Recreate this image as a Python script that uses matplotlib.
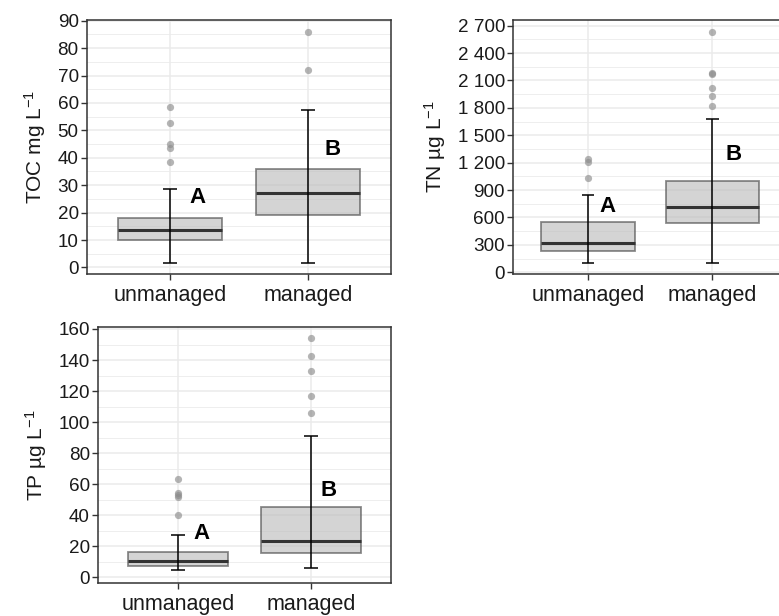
import matplotlib
matplotlib.use("Agg")
import matplotlib.pyplot as plt
from matplotlib.ticker import MultipleLocator, FuncFormatter

plt.rcParams.update({
    "font.family": ["Liberation Sans", "DejaVu Sans"],
    "mathtext.fontset": "custom",
    "mathtext.rm": "Liberation Sans",
    "mathtext.it": "Liberation Sans",
    "mathtext.default": "regular",
})

# =========================
# DATA
# =========================
groups = ["unmanaged", "managed"]

# TOC (mg/L): whislo, q1, median, q3, whishi
toc_unmanaged = [1.5, 9.9, 13.7, 18.0, 28.5]
toc_managed = [1.5, 19.1, 27.2, 36.0, 57.5]
toc_out_unmanaged = [58.5, 52.8, 45.0, 43.6, 38.3]
toc_out_managed = [86.0, 72.0]

# TN (ug/L)
tn_unmanaged = [100, 237, 324, 551, 846]
tn_managed = [100, 536, 712, 1000, 1675]
tn_out_unmanaged = [1237, 1210, 1029]
tn_out_managed = [2635, 2186, 2171, 2015, 1934, 1821]

# TP (ug/L)
tp_unmanaged = [4.7, 7.3, 10.7, 16.5, 27.5]
tp_managed = [5.8, 15.5, 23.6, 45.5, 91.2]
tp_out_unmanaged = [63.0, 54.3, 53.0, 52.0, 40.3]
tp_out_managed = [154.0, 142.8, 132.7, 116.8, 106.0]

# significance letters: (x, y)
toc_letters = [("A", 1.2, 25.5), ("B", 2.18, 43.0)]
tn_letters = [("A", 1.16, 720), ("B", 2.17, 1290)]
tp_letters = [("A", 1.18, 28.0), ("B", 2.13, 56.0)]

# =========================
# HELPERS
# =========================
def make_stats(five, fliers):
    lo, q1, med, q3, hi = five
    return {"whislo": lo, "q1": q1, "med": med, "q3": q3, "whishi": hi,
            "fliers": fliers}


def thousands(v, pos):
    return "{:,.0f}".format(v).replace(",", " ")


def draw_panel(ax, stats, letters, ylabel, ylim, major, fmt=None):
    pos = [1, 2]
    ax.set_xlim(0.4, 2.6)
    ax.set_ylim(*ylim)

    # whisker lines with caps (drawn through the box)
    for p, s in zip(pos, stats):
        ax.vlines(p, s["whislo"], s["whishi"], color="black", lw=1.1, zorder=3)
        ax.hlines([s["whislo"], s["whishi"]], p - 0.05, p + 0.05,
                  color="black", lw=1.1, zorder=3)

    ax.bxp(stats, positions=pos, widths=0.75, patch_artist=True,
           showcaps=False, manage_ticks=False,
           boxprops=dict(facecolor="#bdbdbd", edgecolor="#4d4d4d",
                         lw=1.3, alpha=0.65),
           whiskerprops=dict(lw=0),
           medianprops=dict(color="#333333", lw=2.2),
           flierprops=dict(marker="o", markersize=5.2, markerfacecolor="#8c8c8c",
                           markeredgecolor="none", alpha=0.65),
           zorder=2)

    for txt, x, y in letters:
        ax.text(x, y, txt, fontsize=16, fontweight="bold", ha="center",
                va="center", color="black", zorder=5)

    ax.set_xticks(pos)
    ax.set_xticklabels(groups, fontsize=15.5, color="#1a1a1a")
    ax.yaxis.set_major_locator(MultipleLocator(major))
    ax.yaxis.set_minor_locator(MultipleLocator(major / 2))
    if fmt is not None:
        ax.yaxis.set_major_formatter(FuncFormatter(fmt))
    ax.tick_params(axis="y", labelsize=13.6, labelcolor="#1a1a1a")
    ax.tick_params(axis="both", which="major", length=4, width=1,
                   color="#333333", pad=2)
    ax.tick_params(axis="y", which="minor", length=0)
    ax.tick_params(axis="x", pad=4)

    ax.grid(True, which="major", color="#ebebeb", lw=1.1, zorder=0)
    ax.grid(True, which="minor", axis="y", color="#ebebeb", lw=0.6, zorder=0)
    ax.set_axisbelow(True)
    for sp in ax.spines.values():
        sp.set_color("#333333")
        sp.set_linewidth(1.1)

    ax.set_ylabel(ylabel, fontsize=15, color="#1a1a1a", labelpad=7)


# =========================
# FIGURE
# =========================
fig = plt.figure(figsize=(7.79, 6.16), dpi=100)

ax1 = fig.add_axes([0.1117, 0.5552, 0.3899, 0.4123])
ax2 = fig.add_axes([0.6590, 0.5552, 0.3513, 0.4123])
ax3 = fig.add_axes([0.1262, 0.0531, 0.3754, 0.4166])

draw_panel(ax1,
           [make_stats(toc_unmanaged, toc_out_unmanaged),
            make_stats(toc_managed, toc_out_managed)],
           toc_letters, r"TOC mg L$^{-1}$", (-2.4, 90.25), 10)

draw_panel(ax2,
           [make_stats(tn_unmanaged, tn_out_unmanaged),
            make_stats(tn_managed, tn_out_managed)],
           tn_letters, "TN µg L$^{-1}$", (-19, 2762), 300, fmt=thousands)

draw_panel(ax3,
           [make_stats(tp_unmanaged, tp_out_unmanaged),
            make_stats(tp_managed, tp_out_managed)],
           tp_letters, "TP µg L$^{-1}$", (-3.9, 161.5), 20)

fig.savefig("out.png", dpi=100)
